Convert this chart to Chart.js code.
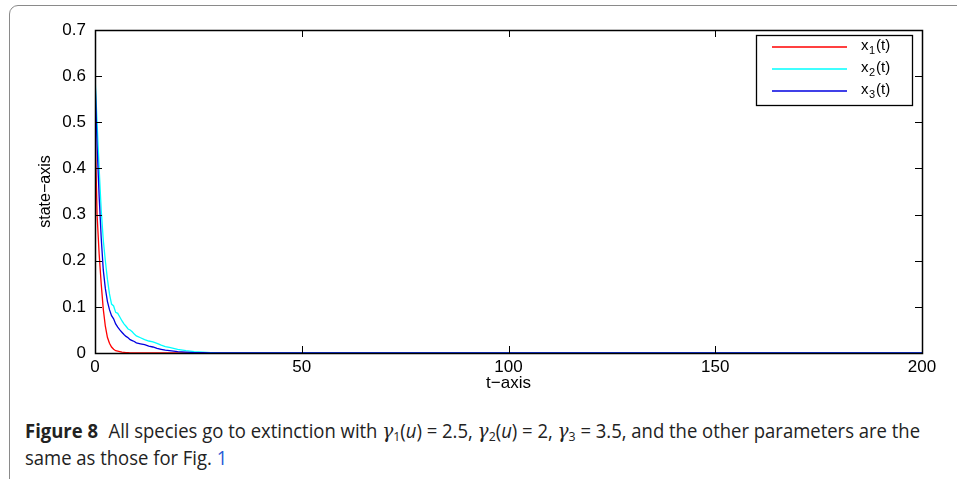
<!DOCTYPE html>
<html>
<head>
<meta charset="utf-8">
<script src="https://cdn.jsdelivr.net/npm/chart.js@4.4.0/dist/chart.umd.min.js"></script>
<style>
  body { margin: 0; background: #fff; width: 957px; height: 479px; overflow: hidden; position: relative; }
  #frame { position: absolute; left: 9px; top: 5px; width: 1000px; height: 600px; border: 1.5px solid #8a8a8a; border-radius: 9px; }
  #wrap { position: absolute; left: 0; top: 0; width: 957px; height: 400px; }
  #caption { position: absolute; left: 25px; top: 418px; font-family: "Open Sans", sans-serif; font-size: 19.5px; line-height: 26px; color: #222; white-space: nowrap; }
  #caption .line { display: block; transform-origin: 0 0; }
  #caption b { font-weight: 700; margin-right: 6px; }
  #caption .ref { color: #2a5bd7; }
  #caption .g { font-family: "DejaVu Serif", serif; font-style: italic; }
  #caption sub { font-size: 13px; vertical-align: -3px; line-height: 0; }
</style>
</head>
<body>
<div id="frame"></div>
<div id="wrap"><canvas id="myChart" width="957" height="400"></canvas></div>
<div id="caption">
  <span class="line" id="cap1"><b>Figure 8</b> All species go to extinction with <span class="g">γ</span><sub>1</sub>(<i>u</i>) = 2.5, <span class="g">γ</span><sub>2</sub>(<i>u</i>) = 2, <span class="g">γ</span><sub>3</sub> = 3.5, and the other parameters are the</span>
  <span class="line" id="cap2">same as those for Fig. <span class="ref">1</span></span>
</div>
<script>
// time points of the simulation output
var tValues = [0, 0.5, 1, 1.5, 2, 2.5, 3, 3.5, 4, 4.5, 5, 5.5, 6, 6.5, 7, 7.5, 8, 8.5, 9, 9.5, 10,
               11, 12, 13, 14, 15, 16, 17, 18, 19, 20, 22, 24, 26, 28, 30, 200];
// species densities
var x1 = [0.50, 0.30, 0.215, 0.15, 0.095, 0.058, 0.034, 0.021, 0.013, 0.008, 0.005, 0.004, 0.003, 0.002, 0.0015, 0.001, 0.001, 0, 0, 0, 0,
          0, 0, 0, 0, 0, 0, 0, 0, 0, 0, 0, 0, 0, 0, 0, 0];
var x2 = [0.60, 0.50, 0.40, 0.31, 0.245, 0.20, 0.16, 0.128, 0.106, 0.102, 0.088, 0.086, 0.078, 0.070, 0.063, 0.058, 0.052, 0.050, 0.046, 0.041, 0.037,
          0.033, 0.029, 0.026, 0.024, 0.021, 0.017, 0.014, 0.012, 0.010, 0.008, 0.005, 0.003, 0.002, 0.001, 0, 0];
var x3 = [0.60, 0.45, 0.34, 0.25, 0.18, 0.14, 0.112, 0.094, 0.081, 0.074, 0.063, 0.056, 0.050, 0.045, 0.040, 0.036, 0.033, 0.029, 0.027, 0.025, 0.022,
          0.020, 0.018, 0.015, 0.013, 0.010, 0.008, 0.006, 0.005, 0.004, 0.003, 0.002, 0.001, 0.0005, 0, 0, 0];

var xTicks = [0, 50, 100, 150, 200];
var yTicks = [0, 0.1, 0.2, 0.3, 0.4, 0.5, 0.6, 0.7];
var seriesNames = ['1', '2', '3'];
var seriesColors = ['#ff0000', '#00ffff', '#0000e0'];

function pts(vals) {
  return tValues.map(function (t, i) { return { x: t, y: vals[i] }; });
}

var fam = 'Liberation Sans, Arial, sans-serif';
var axisFont = { family: fam, size: 17 };

// box around the plot with inward ticks, matlab style
var boxPlugin = {
  id: 'box',
  afterDraw: function (chart) {
    var ctx = chart.ctx, a = chart.chartArea;
    var xs = chart.scales.x, ys = chart.scales.y;
    ctx.save();
    ctx.strokeStyle = '#000';
    ctx.lineWidth = 1;
    ctx.beginPath();
    xTicks.forEach(function (v) {
      var px = Math.round(xs.getPixelForValue(v)) + 0.5;
      ctx.moveTo(px, a.bottom); ctx.lineTo(px, a.bottom - 7);
      ctx.moveTo(px, a.top); ctx.lineTo(px, a.top + 7);
    });
    yTicks.forEach(function (v) {
      var py = Math.round(ys.getPixelForValue(v)) + 0.5;
      ctx.moveTo(a.left, py); ctx.lineTo(a.left + 7, py);
      ctx.moveTo(a.right, py); ctx.lineTo(a.right - 7, py);
    });
    ctx.stroke();
    ctx.lineWidth = 1.5;
    ctx.strokeRect(Math.round(a.left) + 0.5, Math.round(a.top) + 0.5, Math.round(a.right - a.left), Math.round(a.bottom - a.top));

    // legend with subscripts
    var lx = 756, ly = 35, lw = 156, lh = 70;
    ctx.fillStyle = '#fff';
    ctx.fillRect(lx, ly, lw, lh);
    ctx.lineWidth = 1.3;
    ctx.strokeRect(lx + 0.5, ly + 0.5, lw, lh);
    seriesNames.forEach(function (n, i) {
      var yy = ly + 12 + i * 22;
      ctx.strokeStyle = seriesColors[i];
      ctx.lineWidth = 1.5;
      ctx.beginPath();
      ctx.moveTo(772, yy); ctx.lineTo(847, yy);
      ctx.stroke();
      ctx.fillStyle = '#000';
      ctx.textBaseline = 'alphabetic';
      ctx.font = '15px ' + fam;
      ctx.fillText('x', 861, yy + 3);
      ctx.font = '11px ' + fam;
      ctx.fillText(n, 869, yy + 7);
      ctx.font = '15px ' + fam;
      ctx.fillText('(t)', 876, yy + 3);
    });
    ctx.restore();
  }
};

var chart = new Chart(document.getElementById('myChart').getContext('2d'), {
  type: 'line',
  data: {
    datasets: [
      { label: 'x1(t)', data: pts(x1), borderColor: seriesColors[0], order: 3 },
      { label: 'x2(t)', data: pts(x2), borderColor: seriesColors[1], order: 2 },
      { label: 'x3(t)', data: pts(x3), borderColor: seriesColors[2], order: 1 }
    ]
  },
  options: {
    responsive: false,
    animation: false,
    layout: { padding: { left: 0, top: 30, right: 35, bottom: 0 } },
    elements: {
      point: { radius: 0 },
      line: { borderWidth: 1.3, tension: 0 }
    },
    plugins: { legend: { display: false }, tooltip: { enabled: false } },
    scales: {
      x: {
        type: 'linear', min: 0, max: 200,
        afterFit: function (s) { s.height = 47; },
        afterBuildTicks: function (s) { s.ticks = xTicks.map(function (v) { return { value: v }; }); },
        grid: { display: false, drawTicks: false },
        border: { display: false },
        ticks: { color: '#000', font: axisFont, padding: 4, maxRotation: 0 },
        title: { display: true, text: 't\u2212axis', color: '#000', font: { family: fam, size: 17 }, padding: { top: 0, bottom: 6 } }
      },
      y: {
        type: 'linear', min: 0, max: 0.7,
        afterFit: function (s) { s.width = 95; },
        afterBuildTicks: function (s) { s.ticks = yTicks.map(function (v) { return { value: v }; }); },
        grid: { display: false, drawTicks: false },
        border: { display: false },
        ticks: { color: '#000', font: axisFont, padding: 9, callback: function (v) { return v === 0 ? '0' : v.toFixed(1); } },
        title: { display: true, text: 'state\u2212axis', color: '#000', font: { family: fam, size: 16 }, padding: { top: 36, bottom: 0 } }
      }
    }
  },
  plugins: [boxPlugin]
});

// squeeze caption lines to the column width
var c1 = document.getElementById('cap1');
var c2 = document.getElementById('cap2');
var k = 895 / c1.getBoundingClientRect().width;
c1.style.transform = 'scaleX(' + k + ')';
c2.style.transform = 'scaleX(' + k + ')';
</script>
</body>
</html>
